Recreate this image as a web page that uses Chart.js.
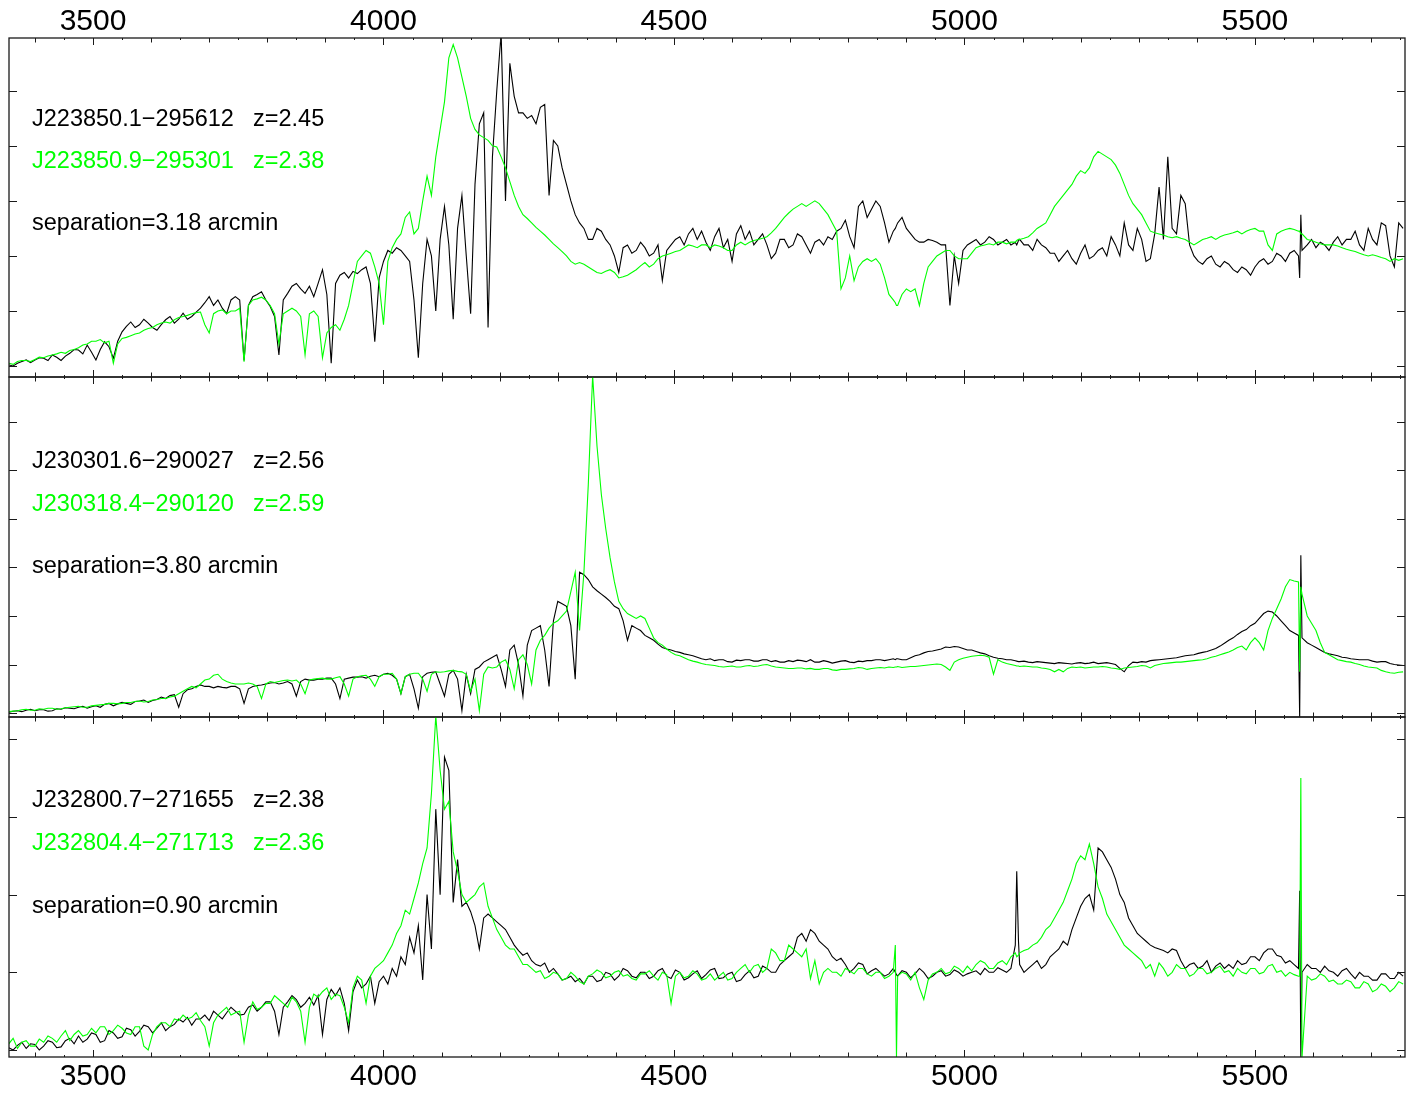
<!DOCTYPE html>
<html lang="en">
<head>
<meta charset="UTF-8" />
<title>Quasar pair spectra</title>
<script src="https://cdn.jsdelivr.net/npm/chart.js@4.4.0/dist/chart.umd.min.js"></script>
<style>
  body { margin: 0; background: #fff; }
  #page { position: relative; width: 1413px; height: 1099px; }
  .panel { position: absolute; left: 8px; width: 1398px; }
</style>
</head>
<body>
<div id="page">
  <div class="panel" style="top:0;height:378px"><canvas id="p1"></canvas></div>
  <div class="panel" style="top:376px;height:342px"><canvas id="p2"></canvas></div>
  <div class="panel" style="top:716px;height:383px"><canvas id="p3"></canvas></div>
</div>
<script>
// wavelength grid (Angstrom), shared by all panels; a few extra points around sky lines / spikes
const waves = [
  3355,3362.5,3370,3377.5,3385,3392.5,3400,3407.5,3415,3422.5,3430,3437.5,3445,3452.5,3460,3467.5,3475,3482.5,3490,3497.5,
  3505,3512.5,3520,3527.5,3535,3542.5,3550,3557.5,3565,3572.5,3580,3587.5,3595,3602.5,3610,3617.5,3625,3632.5,3640,3647.5,
  3655,3662.5,3670,3677.5,3685,3692.5,3700,3707.5,3715,3722.5,3730,3737.5,3745,3752.5,3760,3767.5,3775,3782.5,3790,3797.5,
  3805,3812.5,3820,3827.5,3835,3842.5,3850,3857.5,3865,3872.5,3880,3887.5,3895,3902.5,3910,3917.5,3925,3932.5,3940,3947.5,
  3955,3962.5,3970,3977.5,3985,3992.5,4000,4007.5,4015,4022.5,4030,4037.5,4045,4052.5,4060,4067.5,4075,4082.5,4090,4097.5,
  4105,4112.5,4120,4127.5,4135,4142.5,4150,4157.5,4165,4172.5,4180,4187.5,4195,4202.5,4210,4217.5,4225,4232.5,4240,4247.5,
  4255,4262.5,4270,4277.5,4285,4292.5,4300,4307.5,4315,4322.5,4330,4337.5,4345,4352.5,4360,4367.5,4375,4382.5,4390,4397.5,
  4405,4412.5,4420,4427.5,4435,4442.5,4450,4457.5,4465,4472.5,4480,4487.5,4495,4502.5,4510,4517.5,4525,4532.5,4540,4547.5,
  4555,4562.5,4570,4577.5,4585,4592.5,4600,4607.5,4615,4622.5,4630,4637.5,4645,4652.5,4660,4667.5,4675,4682.5,4690,4697.5,
  4705,4712.5,4720,4727.5,4735,4742.5,4750,4757.5,4765,4772.5,4780,4787.5,4795,4802.5,4810,4817.5,4825,4832.5,4840,4847.5,
  4855,4862.5,4870,4877.5,4881,4883,4885,4892.5,4900,4907.5,4915,4922.5,4930,4937.5,4945,4952.5,4960,4967.5,4975,4982.5,4990,4997.5,
  5005,5012.5,5020,5027.5,5035,5042.5,5050,5057.5,5065,5072.5,5080,5087.5,5090,5093,5095,5102.5,5110,5117.5,5125,5132.5,5140,5147.5,
  5155,5162.5,5170,5177.5,5185,5192.5,5200,5207.5,5215,5222.5,5230,5237.5,5245,5252.5,5260,5267.5,5275,5282.5,5290,5297.5,
  5305,5312.5,5320,5327.5,5335,5342.5,5350,5357.5,5365,5372.5,5380,5387.5,5395,5402.5,5410,5417.5,5425,5432.5,5440,5447.5,
  5455,5462.5,5470,5477.5,5485,5492.5,5500,5507.5,5515,5522.5,5530,5537.5,5545,5552.5,5560,5567.5,5575,5577,5579,5581,5590,5597.5,
  5605,5612.5,5620,5627.5,5635,5642.5,5650,5657.5,5665,5672.5,5680,5687.5,5695,5702.5,5710,5717.5,5725,5732.5,5740,5747.5,
  5755
];

// panel 1: J223850.1-295612 (black) / J223850.9-295301 (green)
const flux1Black = [
  0.02,0.0,0.05,0.08,0.11,0.06,0.11,0.15,0.14,0.1,0.2,0.16,0.1,0.18,0.23,0.3,0.29,0.22,0.38,0.25,
  0.11,0.3,0.44,0.35,0.14,0.45,0.62,0.72,0.8,0.7,0.75,0.85,0.78,0.7,0.65,0.75,0.84,0.9,0.78,0.85,
  0.96,0.85,0.9,0.98,1.05,1.15,1.26,1.1,1.2,1.05,0.95,1.2,1.26,1.2,0.1,1.1,1.26,1.3,1.35,1.2,
  1.08,0.9,0.2,1.2,1.32,1.45,1.5,1.4,1.32,1.45,1.26,1.5,1.75,1.3,0.05,1.5,1.65,1.7,1.6,1.72,
  1.68,1.75,1.8,1.5,0.44,1.6,1.9,2.1,2.05,2.15,2.1,2.0,1.9,1.2,0.15,1.5,2.3,2.0,1.0,2.3,
  2.9,2.2,0.85,2.5,3.1,2.0,0.95,3.3,4.4,4.6,0.7,3.8,5.0,6.05,3.0,5.5,4.9,4.6,4.6,4.5,
  4.55,4.4,4.7,4.75,3.1,4.1,4.0,3.6,3.3,3.0,2.75,2.6,2.5,2.3,2.3,2.5,2.45,2.3,2.2,2.0,
  1.7,2.15,2.2,2.05,2.1,2.25,2.15,2.0,2.05,2.2,1.55,2.1,2.2,2.3,2.35,2.2,2.4,2.5,2.3,2.45,
  2.25,2.1,2.35,2.5,2.15,2.3,1.9,2.4,2.55,2.3,2.45,2.2,2.3,2.4,2.2,1.95,2.05,2.3,2.3,2.15,
  2.2,2.4,2.35,2.2,2.05,2.25,2.3,2.2,2.35,2.3,2.45,2.5,2.65,2.35,2.15,2.9,3.0,2.7,2.85,3.0,
  2.9,2.6,2.25,2.45,2.5,2.55,2.6,2.7,2.5,2.4,2.3,2.25,2.25,2.3,2.28,2.25,2.2,2.2,1.1,2.0,1.5,2.1,
  2.2,2.25,2.3,2.2,2.25,2.35,2.3,2.2,2.25,2.3,2.2,2.25,2.2,2.28,2.3,2.2,2.2,2.1,2.3,2.2,2.15,2.05,
  2.05,1.9,2.0,2.1,1.95,1.85,2.05,2.2,1.95,2.0,2.1,2.15,2.0,2.35,2.2,2.0,2.6,2.2,2.1,2.5,
  2.3,1.9,1.95,2.4,3.25,2.3,3.8,2.5,2.4,3.1,2.95,2.2,2.0,1.9,1.85,1.95,2.0,1.85,1.8,1.9,
  1.85,1.75,1.7,1.8,1.75,1.65,1.8,1.9,1.95,1.85,1.9,2.05,2.0,1.9,2.05,2.1,2.0,1.6,2.75,2.1,2.2,2.3,
  2.15,2.25,2.2,2.1,2.25,2.35,2.2,2.3,2.3,2.45,2.2,2.1,2.5,2.3,2.2,2.6,2.55,2.0,1.8,2.6,
  2.5
];
const flux1Green = [
  0.05,0.03,0.08,0.1,0.1,0.08,0.12,0.16,0.15,0.18,0.2,0.22,0.25,0.23,0.28,0.3,0.33,0.38,0.4,0.45,
  0.45,0.48,0.42,0.45,0.05,0.4,0.5,0.52,0.55,0.58,0.6,0.65,0.68,0.7,0.75,0.78,0.8,0.78,0.84,0.88,
  0.9,0.92,0.95,0.97,0.98,0.75,0.6,0.95,1.0,1.02,0.95,1.0,1.0,1.05,0.08,1.1,1.2,1.22,1.25,1.2,
  1.1,0.95,0.4,0.95,1.0,1.05,1.0,0.9,0.2,0.95,1.0,0.9,0.15,0.6,0.7,0.75,0.65,0.85,1.1,1.5,
  1.9,2.0,2.1,2.05,1.8,1.5,0.75,1.9,2.15,2.3,2.4,2.7,2.8,2.4,2.5,3.0,3.45,3.1,3.8,4.3,
  4.8,5.6,5.84,5.6,5.25,4.9,4.5,4.3,4.2,4.15,4.1,4.0,3.98,3.8,3.6,3.35,3.1,2.9,2.75,2.68,
  2.6,2.52,2.45,2.38,2.3,2.22,2.15,2.08,2.0,1.9,1.85,1.88,1.85,1.8,1.75,1.7,1.68,1.72,1.75,1.7,
  1.6,1.62,1.65,1.7,1.75,1.82,1.88,1.8,1.85,1.95,2.0,2.02,2.05,2.08,2.1,2.15,2.2,2.18,2.15,2.2,
  2.2,2.15,2.2,2.18,2.15,2.1,2.1,2.2,2.25,2.2,2.25,2.28,2.3,2.32,2.35,2.42,2.5,2.6,2.7,2.78,
  2.85,2.9,2.95,2.9,2.95,3.0,2.95,2.85,2.75,2.6,2.45,1.4,1.6,2.0,1.55,1.8,1.9,1.95,1.9,1.95,
  1.85,1.6,1.3,1.2,1.15,1.1,1.1,1.3,1.4,1.35,1.4,1.1,1.5,1.8,1.9,2.0,2.05,2.1,2.1,2.0,1.95,1.95,
  1.95,2.05,2.15,2.18,2.2,2.22,2.2,2.25,2.25,2.22,2.25,2.25,2.28,2.3,2.3,2.32,2.35,2.42,2.5,2.55,2.6,2.75,
  2.9,3.0,3.1,3.2,3.3,3.45,3.55,3.5,3.6,3.8,3.9,3.85,3.8,3.75,3.65,3.5,3.3,3.1,2.95,2.85,
  2.75,2.6,2.45,2.42,2.4,2.38,2.35,2.33,2.35,2.32,2.3,2.25,2.2,2.25,2.3,2.32,2.35,2.3,2.35,2.38,
  2.4,2.42,2.45,2.4,2.45,2.48,2.5,2.45,2.45,2.2,2.1,2.4,2.45,2.48,2.5,2.48,2.45,2.45,2.4,2.4,2.3,2.28,
  2.25,2.22,2.2,2.2,2.2,2.18,2.15,2.12,2.1,2.08,2.05,2.02,2.0,2.02,2.0,1.97,1.95,1.9,1.95,1.92,
  1.95
];

// panel 2: J230301.6-290027 (black) / J230318.4-290120 (green)
const flux2Black = [
  0.02,0.04,0.05,0.03,0.06,0.08,0.05,0.07,0.07,0.04,0.05,0.09,0.08,0.11,0.1,0.09,0.12,0.14,0.1,0.13,
  0.15,0.12,0.18,0.2,0.15,0.19,0.22,0.2,0.18,0.24,0.25,0.27,0.22,0.26,0.28,0.33,0.3,0.36,0.38,0.12,
  0.4,0.48,0.5,0.55,0.58,0.55,0.55,0.52,0.55,0.53,0.52,0.55,0.55,0.5,0.2,0.5,0.55,0.57,0.58,0.6,
  0.62,0.63,0.6,0.62,0.65,0.6,0.35,0.65,0.7,0.68,0.68,0.7,0.7,0.72,0.72,0.6,0.3,0.7,0.72,0.74,
  0.74,0.75,0.72,0.76,0.78,0.75,0.8,0.82,0.78,0.7,0.4,0.75,0.8,0.5,0.1,0.75,0.82,0.84,0.85,0.6,
  0.35,0.8,0.88,0.7,0.05,0.8,0.4,0.9,0.95,1.05,1.1,1.15,1.2,0.9,0.55,1.3,1.4,1.0,0.35,1.4,
  1.7,1.75,1.8,1.3,0.55,1.9,2.3,2.25,2.2,1.8,0.7,2.9,2.85,2.75,2.6,2.52,2.45,2.38,2.3,2.2,
  2.15,1.9,1.5,1.8,1.75,1.7,1.6,1.55,1.5,1.42,1.35,1.32,1.3,1.27,1.25,1.22,1.2,1.18,1.15,1.12,
  1.1,1.12,1.08,1.1,1.1,1.06,1.05,1.09,1.08,1.1,1.1,1.07,1.07,1.1,1.1,1.06,1.08,1.05,1.05,1.08,
  1.06,1.09,1.08,1.06,1.1,1.05,1.05,1.08,1.06,1.03,1.05,1.07,1.08,1.05,1.04,1.07,1.06,1.08,1.08,1.1,
  1.1,1.08,1.1,1.12,1.1,1.12,1.12,1.1,1.1,1.14,1.18,1.2,1.24,1.27,1.28,1.3,1.32,1.36,1.35,1.37,1.36,1.33,
  1.3,1.3,1.27,1.24,1.22,1.18,1.15,1.13,1.12,1.1,1.1,1.08,1.07,1.06,1.06,1.07,1.05,1.04,1.06,1.05,1.04,1.03,
  1.02,1.04,1.03,1.02,1.01,1.03,1.04,1.02,1.03,1.05,1.02,1.03,1.04,1.02,1.0,0.92,0.85,0.98,1.05,1.04,
  1.06,1.05,1.08,1.09,1.1,1.11,1.12,1.13,1.14,1.16,1.18,1.19,1.2,1.23,1.25,1.27,1.3,1.33,1.38,1.44,
  1.5,1.55,1.62,1.68,1.72,1.8,1.85,1.95,2.05,2.1,2.08,2.0,1.9,1.8,1.7,1.65,1.6,-0.1,3.25,1.55,1.45,1.4,
  1.35,1.3,1.25,1.22,1.2,1.18,1.15,1.14,1.12,1.11,1.1,1.1,1.1,1.07,1.05,1.06,1.06,1.02,1.0,0.99,
  0.98
];
const flux2Green = [
  0.03,0.04,0.05,0.07,0.08,0.06,0.06,0.09,0.08,0.1,0.1,0.08,0.09,0.11,0.12,0.13,0.14,0.12,0.12,0.15,
  0.16,0.17,0.18,0.2,0.2,0.19,0.2,0.22,0.22,0.24,0.25,0.23,0.24,0.27,0.28,0.3,0.3,0.33,0.35,0.4,
  0.45,0.5,0.55,0.52,0.6,0.68,0.7,0.78,0.8,0.7,0.65,0.62,0.6,0.6,0.6,0.62,0.6,0.55,0.3,0.6,
  0.65,0.63,0.65,0.67,0.68,0.66,0.68,0.6,0.4,0.68,0.7,0.71,0.72,0.7,0.7,0.73,0.75,0.6,0.35,0.7,
  0.75,0.77,0.78,0.7,0.55,0.75,0.8,0.8,0.82,0.7,0.4,0.75,0.8,0.82,0.82,0.7,0.45,0.8,0.85,0.84,
  0.85,0.87,0.88,0.86,0.85,0.8,0.45,0.7,0.05,0.8,0.95,0.93,0.95,1.05,1.1,0.9,0.5,1.1,1.2,1.0,
  0.6,1.3,1.5,1.6,1.75,1.85,1.9,2.0,2.1,2.5,2.9,1.7,2.9,4.7,6.95,5.5,4.5,3.8,3.2,2.7,
  2.3,2.15,2.05,2.0,1.95,2.0,1.95,1.75,1.55,1.45,1.4,1.32,1.25,1.2,1.18,1.14,1.1,1.07,1.05,1.02,
  1.0,0.99,0.98,0.96,0.95,0.96,0.97,0.95,0.95,0.97,0.98,0.96,0.97,0.99,1.0,0.97,0.95,0.94,0.93,0.92,
  0.92,0.93,0.93,0.91,0.92,0.9,0.9,0.92,0.92,0.89,0.88,0.9,0.9,0.91,0.92,0.94,0.93,0.9,0.92,0.93,
  0.94,0.93,0.95,0.94,0.95,0.95,0.96,0.94,0.95,0.96,0.96,0.97,0.98,0.99,1.0,1.01,1.0,0.95,0.88,1.05,1.1,1.13,
  1.15,1.17,1.18,1.19,1.18,1.15,0.8,1.1,1.05,1.02,1.0,0.98,0.97,0.97,0.96,0.97,0.96,0.95,0.95,0.93,0.92,0.9,
  0.85,0.9,0.85,0.92,0.95,0.94,0.95,0.93,0.94,0.95,0.95,0.96,0.95,0.93,0.92,0.9,0.93,0.94,0.95,0.96,
  0.98,0.97,0.93,0.98,1.0,1.02,1.03,1.04,1.05,1.05,1.06,1.07,1.08,1.09,1.1,1.12,1.15,1.17,1.2,1.23,
  1.26,1.3,1.35,1.38,1.3,1.45,1.55,1.45,1.3,1.7,1.95,2.15,2.35,2.6,2.75,2.72,2.7,0.85,2.6,2.45,2.0,1.85,
  1.7,1.45,1.25,1.2,1.15,1.1,1.08,1.06,1.05,1.02,1.0,0.97,0.95,0.94,0.93,0.88,0.85,0.83,0.82,0.84,
  0.85
];

// panel 3: J232800.7-271655 (black) / J232804.4-271713 (green)
const flux3Black = [
  0.03,0.0,0.06,0.1,0.02,0.08,0.07,0.0,0.05,0.12,0.1,0.03,0.04,0.12,0.15,0.08,0.18,0.1,0.14,0.22,
  0.2,0.1,0.12,0.25,0.22,0.15,0.17,0.28,0.26,0.18,0.24,0.32,0.3,0.22,0.28,0.35,0.25,0.3,0.33,0.4,
  0.36,0.42,0.32,0.4,0.4,0.45,0.38,0.5,0.45,0.4,0.48,0.55,0.5,0.45,0.46,0.55,0.58,0.5,0.55,0.62,
  0.62,0.5,0.2,0.55,0.62,0.7,0.65,0.55,0.6,0.68,0.58,0.7,0.2,0.65,0.78,0.7,0.8,0.6,0.25,0.75,
  0.9,0.8,0.85,0.95,0.6,0.88,0.95,0.85,1.05,0.95,1.2,1.1,1.45,1.25,1.6,0.9,2.0,1.3,3.1,2.0,
  3.77,3.6,1.9,2.45,1.85,1.9,1.78,1.6,1.3,1.7,1.75,1.7,1.65,1.6,1.55,1.45,1.35,1.28,1.22,1.25,
  1.15,1.1,1.08,1.12,1.0,1.05,0.98,0.9,0.92,0.95,0.88,0.92,0.85,0.95,0.95,0.88,0.9,1.0,0.98,0.9,
  0.95,1.05,1.02,0.95,0.93,1.0,1.0,0.92,0.95,1.02,1.05,0.95,0.92,1.03,1.0,0.9,0.93,0.98,1.02,0.92,
  0.97,1.03,1.05,0.92,0.93,0.98,1.0,0.88,0.9,0.97,1.02,0.93,0.95,1.08,1.05,1.0,1.0,1.1,1.15,1.2,
  1.25,1.45,1.5,1.4,1.55,1.5,1.4,1.35,1.3,1.2,1.15,1.18,1.1,1.0,1.05,1.12,1.1,0.98,1.02,1.05,
  1.0,0.95,0.98,1.05,1.0,0.97,0.95,1.02,1.0,0.93,0.98,1.05,1.0,0.92,0.95,1.0,1.02,0.95,0.97,1.03,1.0,0.95,
  0.98,1.0,1.02,0.97,1.05,1.0,1.0,1.06,1.03,1.0,1.05,1.35,2.3,1.4,1.1,1.0,1.05,1.1,1.15,1.05,1.1,1.2,
  1.25,1.3,1.4,1.35,1.55,1.7,1.85,1.95,2.0,1.8,2.6,2.55,2.45,2.35,2.2,2.0,1.9,1.7,1.6,1.5,
  1.45,1.4,1.35,1.32,1.3,1.28,1.25,1.3,1.28,1.15,1.05,1.1,1.12,1.05,1.08,1.15,1.0,1.08,1.12,1.05,
  1.1,1.05,1.15,1.1,1.12,1.2,1.2,1.15,1.25,1.3,1.3,1.22,1.2,1.12,1.15,1.1,1.05,2.05,-0.1,1.0,1.1,1.05,
  1.05,1.0,1.08,1.02,1.0,0.95,1.02,1.05,0.98,0.92,1.0,0.95,0.95,0.9,0.9,0.98,0.98,0.92,0.92,1.0,
  0.95
];
const flux3Green = [
  0.08,0.15,0.02,0.1,0.12,0.05,0.05,0.14,0.1,0.18,0.15,0.1,0.18,0.25,0.12,0.2,0.25,0.18,0.2,0.28,
  0.22,0.3,0.3,0.2,0.25,0.32,0.28,0.22,0.2,0.3,0.3,0.05,0.0,0.2,0.3,0.35,0.35,0.3,0.4,0.38,
  0.45,0.4,0.42,0.48,0.38,0.3,0.05,0.35,0.45,0.5,0.55,0.45,0.48,0.5,0.1,0.45,0.62,0.52,0.55,0.6,
  0.6,0.7,0.65,0.6,0.55,0.68,0.62,0.5,0.1,0.55,0.72,0.68,0.75,0.8,0.65,0.72,0.7,0.55,0.35,0.8,
  0.95,0.9,0.6,0.95,1.05,1.1,1.15,1.25,1.35,1.5,1.6,1.8,1.75,1.95,2.15,2.4,2.6,3.3,4.3,3.6,
  3.1,3.2,2.55,2.3,2.0,1.9,1.95,2.0,2.1,2.15,1.85,1.7,1.55,1.45,1.35,1.3,1.3,1.2,1.1,1.1,
  1.05,1.0,1.02,0.92,0.95,1.0,0.98,0.9,0.92,1.0,0.95,0.88,0.85,0.95,0.98,1.03,1.0,0.93,0.95,1.0,
  1.02,0.95,0.97,0.92,0.9,0.98,0.98,1.02,0.95,0.9,1.0,0.97,0.6,0.95,1.0,0.93,0.95,1.02,0.98,0.9,
  0.92,0.98,0.9,0.95,1.0,0.9,0.92,1.0,1.05,1.1,1.0,1.08,1.1,1.0,1.05,1.3,1.25,1.15,1.15,1.35,
  1.3,1.25,1.2,1.3,0.92,1.15,0.85,1.0,1.05,1.0,1.0,0.95,1.05,1.02,0.98,1.05,1.05,0.98,0.95,1.0,
  1.0,0.92,0.95,1.0,1.35,-0.1,0.95,1.0,0.98,0.9,1.0,0.8,0.65,0.9,0.98,1.0,1.05,0.98,1.0,1.08,1.05,1.0,
  1.08,1.02,1.1,1.15,1.12,1.05,1.05,1.12,1.15,1.1,1.2,1.25,1.2,1.22,1.25,1.28,1.3,1.35,1.38,1.45,1.55,1.6,
  1.7,1.8,1.9,2.05,2.2,2.4,2.5,2.45,2.65,2.4,2.1,1.95,1.75,1.65,1.55,1.45,1.35,1.3,1.25,1.2,
  1.15,1.05,1.1,0.95,1.12,1.05,0.95,1.0,1.1,1.05,1.05,0.95,0.98,1.05,1.05,0.98,1.0,1.05,1.08,1.0,
  1.02,0.95,1.05,1.0,0.98,1.05,1.05,0.98,1.0,1.08,1.1,1.0,1.02,0.95,1.0,0.97,0.95,0.95,3.5,-0.1,0.95,0.9,
  0.92,0.98,0.95,0.88,0.9,0.85,0.85,0.9,0.88,0.8,0.8,0.88,0.85,0.75,0.78,0.85,0.82,0.75,0.8,0.88,
  0.85
];

const xTickLabels = [3500, 4000, 4500, 5000, 5500];
const yTicks1 = [0, 1, 2, 3, 4, 5];
const yTicks2 = [0, 1, 2, 3, 4, 5, 6];
const yTicks3 = [0, 1, 2, 3, 4];

const blackNames = ["J223850.1−295612", "J230301.6−290027", "J232800.7−271655"];
const greenNames = ["J223850.9−295301", "J230318.4−290120", "J232804.4−271713"];
const blackZ = ["z=2.45", "z=2.56", "z=2.38"];
const greenZ = ["z=2.38", "z=2.59", "z=2.36"];
const separations = ["separation=3.18 arcmin", "separation=3.80 arcmin", "separation=0.90 arcmin"];

const GREEN = "#00ff00";
const FONT = '"Liberation Sans", Arial, Helvetica, sans-serif';

const framePlugin = {
  id: "frame",
  afterDraw(chart, args, opts) {
    const ctx = chart.ctx;
    const a = chart.chartArea;
    const x = chart.scales.x;
    const y = chart.scales.y;
    ctx.save();
    ctx.strokeStyle = "#1a1a1a";
    ctx.lineWidth = 1.3;
    ctx.strokeRect(a.left, a.top, a.right - a.left, a.bottom - a.top);

    // inside tick marks: long every 500, medium every 100, short every 50
    ctx.lineWidth = 1;
    ctx.beginPath();
    for (let w = 3400; w <= 5750; w += 50) {
      const px = Math.round(x.getPixelForValue(w)) + 0.5;
      const len = w % 500 === 0 ? 7 : (w % 100 === 0 ? 4.5 : 2);
      ctx.moveTo(px, a.top); ctx.lineTo(px, a.top + len);
      ctx.moveTo(px, a.bottom); ctx.lineTo(px, a.bottom - len);
    }
    opts.yTicks.forEach(v => {
      const py = Math.round(y.getPixelForValue(v)) + 0.5;
      ctx.moveTo(a.left, py); ctx.lineTo(a.left + 8, py);
      ctx.moveTo(a.right, py); ctx.lineTo(a.right - 8, py);
    });
    ctx.stroke();

    // wavelength labels
    if (opts.axis) {
      ctx.fillStyle = "#000";
      ctx.font = "30px " + FONT;
      ctx.textAlign = "center";
      ctx.textBaseline = "middle";
      const ly = opts.axis === "top" ? a.top - 16.5 : a.bottom + 20;
      xTickLabels.forEach(w => ctx.fillText(String(w), x.getPixelForValue(w), ly));
    }

    // object names and separation
    const i = opts.index;
    const r = opts.rows;
    ctx.font = "23.5px " + FONT;
    ctx.textAlign = "left";
    ctx.textBaseline = "middle";
    ctx.fillStyle = "#000";
    ctx.fillText(blackNames[i], a.left + 23, a.top + r[0]);
    ctx.fillText(blackZ[i], a.left + 244, a.top + r[0]);
    ctx.fillStyle = GREEN;
    ctx.fillText(greenNames[i], a.left + 23, a.top + r[1]);
    ctx.fillText(greenZ[i], a.left + 244, a.top + r[1]);
    ctx.fillStyle = "#000";
    ctx.fillText(separations[i], a.left + 23, a.top + r[2]);
    ctx.restore();
  }
};

function makePanel(id, black, green, yMin, yMax, yTicks, index, rows, axis, padding) {
  if (black.length !== waves.length || green.length !== waves.length) {
    console.warn(id, "length mismatch", waves.length, black.length, green.length);
  }
  new Chart(document.getElementById(id), {
    type: "line",
    data: {
      labels: waves,
      datasets: [
        { data: green, borderColor: GREEN, borderWidth: 1.1 },
        { data: black, borderColor: "#000", borderWidth: 1.1 }
      ]
    },
    options: {
      responsive: true,
      maintainAspectRatio: false,
      animation: false,
      layout: { padding: padding },
      elements: { point: { radius: 0 }, line: { tension: 0 } },
      scales: {
        x: { type: "linear", display: false, min: 3355.4, max: 5758.3 },
        y: { type: "linear", display: false, min: yMin, max: yMax }
      },
      plugins: {
        legend: { display: false },
        tooltip: { enabled: false },
        frame: { yTicks: yTicks, index: index, rows: rows, axis: axis }
      }
    },
    plugins: [framePlugin]
  });
}

makePanel("p1", flux1Black, flux1Green, -0.2, 5.96, yTicks1, 0, [82, 124, 186], "top",
  { top: 38, bottom: 1, left: 1, right: 1 });
makePanel("p2", flux2Black, flux2Green, -0.08, 6.92, yTicks2, 1, [85, 128, 190], null,
  { top: 1, bottom: 1, left: 1, right: 1 });
makePanel("p3", flux3Black, flux3Green, -0.09, 4.286, yTicks3, 2, [84, 127, 190], "bottom",
  { top: 1, bottom: 42, left: 1, right: 1 });
</script>
</body>
</html>
